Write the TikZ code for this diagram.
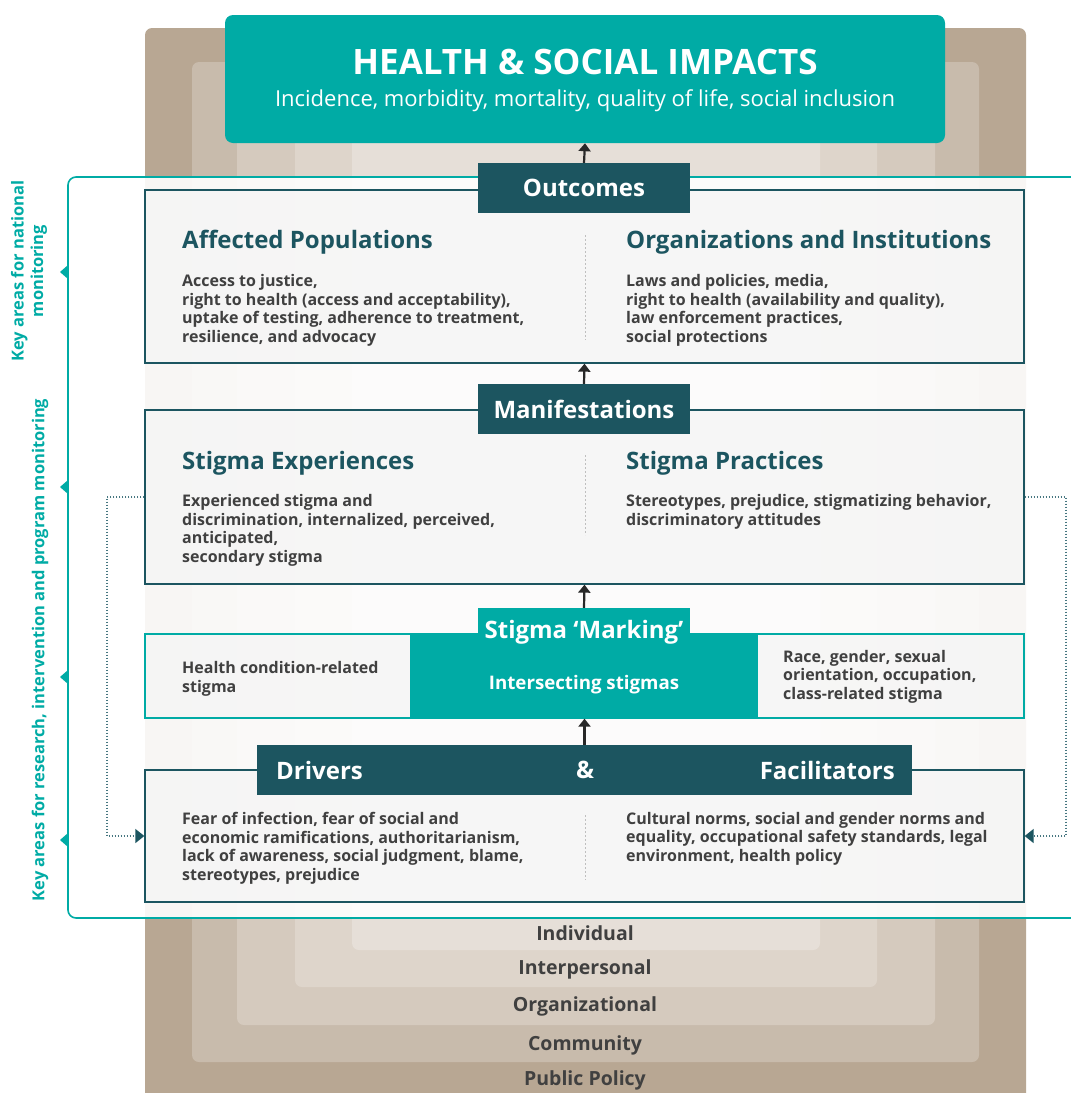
\documentclass[tikz,border=0pt]{standalone}
\usepackage{fontspec}
\setmainfont{Open Sans}
\usetikzlibrary{arrows.meta}
\definecolor{tealA}{RGB}{0,171,165}
\definecolor{dteal}{RGB}{28,85,96}
\definecolor{txtc}{RGB}{64,64,64}
\definecolor{arrc}{RGB}{40,40,40}
\definecolor{dotc}{RGB}{70,118,128}
\definecolor{layA}{RGB}{184,167,147}
\definecolor{layB}{RGB}{200,187,172}
\definecolor{layC}{RGB}{213,202,190}
\definecolor{layD}{RGB}{222,213,203}
\definecolor{layE}{RGB}{230,223,216}
\tikzset{
  layer/.style={fill=#1, rounded corners=7pt},
  laylbl/.style={text=txtc, font=\bfseries\fontsize{19.5}{22}\selectfont, inner sep=0},
  cbox/.style={draw=dteal, line width=1.3pt, fill=white!96!black, fill opacity=0.8, text opacity=1, minimum width=879pt, inner sep=0},
  tabbox/.style={fill=dteal, text=white, font=\bfseries\fontsize{24}{28}\selectfont, minimum height=50pt, inner sep=0},
  tabtxt/.style={text=white, font=\bfseries\fontsize{24}{28}\selectfont, inner sep=0},
  headtxt/.style={text=dteal, font=\bfseries\fontsize{24}{28}\selectfont, anchor=west, inner sep=0},
  bodytxt/.style={text=txtc, font=\bfseries\fontsize{16}{18.4}\selectfont, align=left, anchor=base west, inner sep=0},
  uparrow/.style={-{Triangle[length=8pt,width=12pt]}, line width=2.2pt, draw=arrc},
  fback/.style={draw=dotc, line width=1.4pt, dash pattern=on 1.2pt off 1.8pt, -{Triangle[length=9pt,width=14pt,fill=dteal,color=dteal]}},
  divider/.style={draw=black!25, line width=0.8pt, dash pattern=on 2pt off 2pt},
  keylbl/.style={text=tealA, font=\bfseries\fontsize{16.5}{19.5}\selectfont, rotate=90, align=center, inner sep=0},
  keytri/.style={fill=tealA}
}
\begin{document}
\begin{tikzpicture}[x=1pt,y=-1pt]
\useasboundingbox (0,0) rectangle (1071,1093);
% ---------- nested layers
\fill[layer=layA] (145,28) rectangle (1026,1115);
\fill[layer=layB] (192,62) rectangle (979,1062);
\fill[layer=layC] (237,95) rectangle (935,1025);
\fill[layer=layD] (295,110) rectangle (877,987);
\fill[layer=layE] (352,125) rectangle (820,950);
\node[laylbl] (lind) at (585,933) {Individual};
\node[laylbl] (linter) at (585,969) {Interpersonal};
\node[laylbl] (lorg) at (585,1006) {Organizational};
\node[laylbl] (lcom) at (585,1045) {Community};
\node[laylbl] (lpub) at (585,1080) {Public Policy};
% ---------- impacts box
\node[fill=tealA, rounded corners=8pt, minimum width=720pt, minimum height=128pt, inner sep=0] (impact) at (585,79) {};
\node[text=white, font=\bfseries\fontsize{35}{40}\selectfont, inner sep=0] (imptitle) at (585,62) {HEALTH \& SOCIAL IMPACTS};
\node[text=white, font=\fontsize{22}{26}\selectfont, inner sep=0] (impsub) at (585,101) {Incidence, morbidity, mortality, quality of life, social inclusion};
% ---------- key-area panel
\draw[draw=tealA, line width=1.6pt, fill=white, fill opacity=0.9, rounded corners=8pt] (1090,177) -- (68,177) -- (68,918) -- (1090,918);
\foreach \yy in {272,487,677,840} {
  \fill[keytri] (68,\yy-7) -- (60,\yy) -- (68,\yy+7) -- cycle;
}
\node[keylbl] (keynat) at (29,271) {Key areas for national\\monitoring};
\node[keylbl] (keyres) at (40,650) {Key areas for research, intervention and program monitoring};
% ---------- outcomes
\node[cbox, minimum height=173pt] (outbox) at (584.5,276.5) {};
\node[tabbox, minimum width=212pt] (outtab) at (584,188) {Outcomes};
\node[headtxt] (affh) at (182,242) {Affected Populations};
\node[bodytxt] (afft) at (182,342) {Access to justice,\\right to health (access and acceptability),\\uptake of testing, adherence to treatment,\\resilience, and advocacy};
\node[headtxt] (orgh) at (626,242) {Organizations and Institutions};
\node[bodytxt] (orgt) at (626,342) {Laws and policies, media,\\right to health (availability and quality),\\law enforcement practices,\\social protections};
\draw[divider] (585,235) -- (585,340);
% ---------- manifestations
\node[cbox, minimum height=174pt] (manbox) at (584.5,497) {};
\node[tabbox, minimum width=212pt] (mantab) at (584,409) {Manifestations};
\node[headtxt] (exph) at (182,463) {Stigma Experiences};
\node[bodytxt] (expt) at (182,562) {Experienced stigma and\\discrimination, internalized, perceived,\\anticipated,\\secondary stigma};
\node[headtxt] (prah) at (626,463) {Stigma Practices};
\node[bodytxt] (prat) at (626,525) {Stereotypes, prejudice, stigmatizing behavior,\\discriminatory attitudes};
\draw[divider] (585,455) -- (585,535);
% ---------- marking
\node[cbox, draw=tealA, minimum height=84pt] (markbox) at (584.5,676) {};
\node[fill=tealA, minimum width=212pt, minimum height=44pt, inner sep=0] (marktab) at (584,630) {};
\node[fill=tealA, minimum width=348pt, minimum height=85.5pt, inner sep=0] (markcore) at (584,676) {};
\node[tabtxt] (markt) at (584,632) {Stigma ‘Marking’};
\node[tabtxt, font=\bfseries\fontsize{18.7}{22}\selectfont] (inters) at (584,685) {Intersecting stigmas};
\node[bodytxt] (hcond) at (182,692) {Health condition-related\\stigma};
\node[bodytxt] (race) at (783,699) {Race, gender, sexual\\orientation, occupation,\\class-related stigma};
% ---------- drivers & facilitators
\node[cbox, minimum height=132pt] (drvbox) at (584.5,836) {};
\node[tabbox, minimum width=655pt] (drvtab) at (584.5,770) {};
\node[tabtxt, anchor=west] (drvl) at (276,770) {Drivers};
\node[tabtxt] (amp) at (585,770) {\&};
\node[tabtxt, anchor=east] (facl) at (895,770) {Facilitators};
\node[bodytxt] (drvt) at (182,880) {Fear of infection, fear of social and\\economic ramifications, authoritarianism,\\lack of awareness, social judgment, blame,\\stereotypes, prejudice};
\node[bodytxt] (fact) at (626,861) {Cultural norms, social and gender norms and\\equality, occupational safety standards, legal\\environment, health policy};
\draw[divider] (585,815) -- (585,880);
% ---------- upward arrows
\draw[uparrow] (outtab.north) -- (impact.south);
\draw[uparrow] (mantab.north) -- (outbox.south);
\draw[uparrow] (marktab.north) -- (manbox.south);
\draw[uparrow] (drvtab.north) -- (markbox.south);
% ---------- feedback dotted connectors
\coordinate (lbend) at (107,497);
\coordinate (rbend) at (1066,497);
\draw[fback] (manbox.west) -- (lbend) |- (drvbox.west);
\draw[fback] (manbox.east) -- (rbend) |- (drvbox.east);
\end{tikzpicture}
\end{document}
